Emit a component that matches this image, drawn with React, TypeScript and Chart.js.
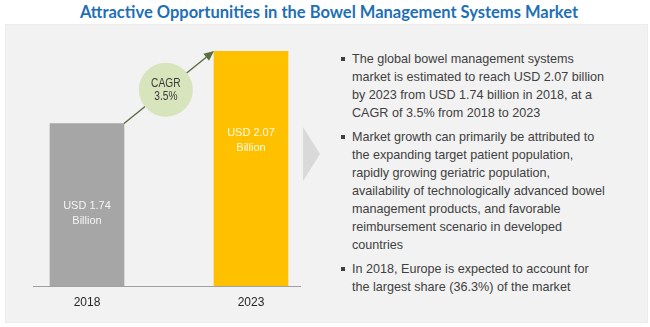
import React, { useEffect, useRef } from "react";
import { Chart, registerables } from "chart.js";

Chart.register(...registerables);

const title = "Attractive Opportunities in the Bowel Management Systems Market";
const years = [2018, 2023];
const values = [1.74, 2.07];
const barLabels = [
  ["USD 1.74", "Billion"],
  ["USD 2.07", "Billion"],
];
const barColors = ["#a6a6a6", "#ffc000"];
const cagrLines = ["CAGR", "3.5%"];
const yMin = 1.0;
const yMax = 2.07;
const xMin = 2016.354;
const xMax = 2024.494;

const bulletLines = [
  [
    "The global bowel management systems",
    "market is estimated to reach USD 2.07 billion",
    "by 2023 from USD 1.74 billion in 2018, at a",
    "CAGR of 3.5% from 2018 to 2023",
  ],
  [
    "Market growth can primarily be attributed to",
    "the expanding target patient population,",
    "rapidly growing geriatric population,",
    "availability of technologically advanced bowel",
    "management products, and favorable",
    "reimbursement scenario in developed",
    "countries",
  ],
  [
    "In 2018, Europe is expected to account for",
    "the largest share (36.3%) of the market",
  ],
];

const SANS = "'Liberation Sans', Arial, sans-serif";

const decorPlugin = {
  id: "decor",
  afterDatasetsDraw(chart: any) {
    const ctx = chart.ctx;
    const meta = chart.getDatasetMeta(0);
    const b0 = meta.data[0];
    const b1 = meta.data[1];
    ctx.save();
    // bar labels
    ctx.textAlign = "center";
    ctx.textBaseline = "middle";
    ctx.font = "11px " + SANS;
    meta.data.forEach((b: any, i: number) => {
      ctx.fillStyle = i === 0 ? "#f4f4f4" : "#fffbe9";
      barLabels[i].forEach((t, j) => ctx.fillText(t, b.x, b.y + 82 + j * 15));
    });
    // arrow
    const x0 = b0.x + b0.width / 2;
    const y0 = b0.y;
    const x1 = b1.x - b1.width / 2;
    const y1 = b1.y;
    ctx.strokeStyle = "#5e6e42";
    ctx.fillStyle = "#5e6e42";
    ctx.lineWidth = 1.5;
    const ang = Math.atan2(y1 - y0, x1 - x0);
    const hl = 10;
    ctx.beginPath();
    ctx.moveTo(x0, y0);
    ctx.lineTo(x1 - Math.cos(ang) * hl * 0.8, y1 - Math.sin(ang) * hl * 0.8);
    ctx.stroke();
    ctx.beginPath();
    ctx.moveTo(x1, y1);
    ctx.lineTo(
      x1 - hl * Math.cos(ang) + 4.5 * Math.sin(ang),
      y1 - hl * Math.sin(ang) - 4.5 * Math.cos(ang)
    );
    ctx.lineTo(
      x1 - hl * Math.cos(ang) - 4.5 * Math.sin(ang),
      y1 - hl * Math.sin(ang) + 4.5 * Math.cos(ang)
    );
    ctx.closePath();
    ctx.fill();
    // CAGR circle
    const t = 0.465;
    const cx = x0 + (x1 - x0) * t;
    const cy = y0 + (y1 - y0) * t;
    ctx.beginPath();
    ctx.arc(cx, cy, 27, 0, Math.PI * 2);
    ctx.fillStyle = "#d8e4bc";
    ctx.fill();
    ctx.fillStyle = "#3a3a3a";
    ctx.font = "12px " + SANS;
    ctx.save();
    ctx.translate(cx, cy);
    ctx.scale(0.85, 1);
    ctx.fillText(cagrLines[0], 0, -6.5);
    ctx.fillText(cagrLines[1], 0, 7);
    ctx.restore();
    // chevron
    const ca = chart.chartArea;
    ctx.beginPath();
    ctx.moveTo(ca.right + 3, 127);
    ctx.lineTo(ca.right + 20, 154);
    ctx.lineTo(ca.right + 3, 181);
    ctx.closePath();
    ctx.fillStyle = "#d9d9d9";
    ctx.fill();
    ctx.restore();
  },
};

export default function App() {
  const ref = useRef<HTMLCanvasElement>(null);
  useEffect(() => {
    document.body.style.margin = "0";
    if (!ref.current) return;
    const chart = new Chart(ref.current, {
      type: "bar",
      data: {
        datasets: [
          {
            data: years.map((y, i) => ({ x: y, y: values[i] })),
            backgroundColor: barColors,
            barThickness: 74,
            borderWidth: 0,
          },
        ],
      },
      options: {
        animation: false,
        responsive: false,
        maintainAspectRatio: false,
        layout: { padding: { top: 51, left: 33, right: 40, bottom: 0 } },
        plugins: { legend: { display: false }, tooltip: { enabled: false }, title: { display: false } },
        scales: {
          x: {
            type: "linear",
            min: xMin,
            max: xMax,
            offset: false,
            bounds: "data",
            grid: { display: false, drawTicks: false, offset: false },
            border: { display: true, color: "#a0a0a0", width: 1 },
            afterBuildTicks: (scale: any) => {
              scale.ticks = years.map((v) => ({ value: v }));
            },
            afterFit: (scale: any) => {
              scale.height = 41;
            },
            ticks: {
              padding: 9,
              color: "#262626",
              font: { size: 12, family: SANS },
              callback: (v: any) => String(v),
              autoSkip: false,
              maxRotation: 0,
            },
          },
          y: { display: false, min: yMin, max: yMax },
        },
      },
      plugins: [decorPlugin],
    } as any);
    return () => chart.destroy();
  }, []);

  return (
    <div style={{ position: "relative", width: 650, height: 327, background: "#fff", overflow: "hidden" }}>
      <div
        style={{
          position: "absolute",
          left: 4,
          top: 2,
          width: 650,
          textAlign: "center",
          font: "bold 16.5px Lato, sans-serif",
          lineHeight: "20px",
          color: "#1f6fb6",
        }}
      >
        {title}
      </div>
      <div
        style={{
          position: "absolute",
          left: 5,
          top: 24,
          width: 641,
          height: 297,
          background: "#f2f2f2",
          border: "1px solid #ececec",
        }}
      />
      <canvas ref={ref} width={340} height={327} style={{ position: "absolute", left: 0, top: 0, width: 340, height: 327 }} />
      <div
        style={{
          position: "absolute",
          left: 352,
          top: 50,
          font: "12.6px " + SANS,
          lineHeight: "18px",
          color: "#404040",
          whiteSpace: "nowrap",
        }}
      >
        {bulletLines.map((p, i) => (
          <div key={i} style={{ position: "relative", marginBottom: 6 }}>
            <span
              style={{
                position: "absolute",
                left: -11,
                top: 7,
                width: 4,
                height: 4,
                background: "#404040",
              }}
            />
            {p.map((l, j) => (
              <div key={j}>{l}</div>
            ))}
          </div>
        ))}
      </div>
    </div>
  );
}
